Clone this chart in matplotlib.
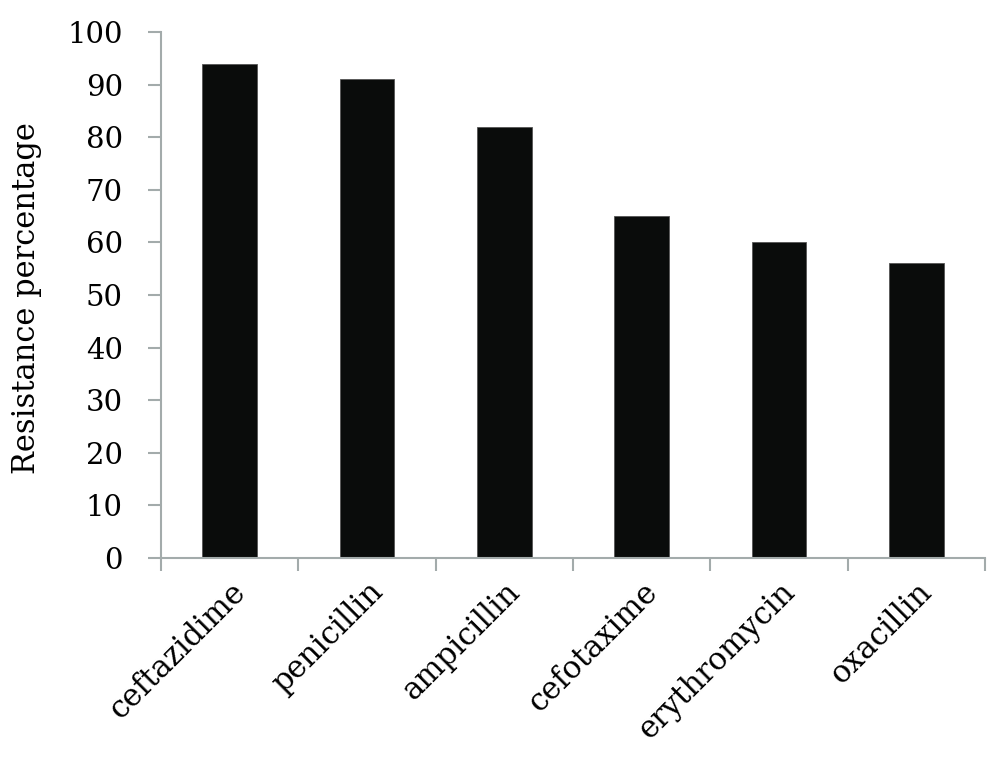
#!/usr/bin/env python3
"""
Bar chart of antibiotic resistance percentages.
"""

import numpy as np
import matplotlib
matplotlib.use("Agg")
import matplotlib.pyplot as plt

antibiotics = ["ceftazidime", "penicillin", "ampicillin",
               "cefotaxime", "erythromycin", "oxacillin"]
resistance = [94, 91, 82, 65, 60, 56]
y_ticks = list(range(0, 101, 10))


def bar_chart():
    plt.rcParams['font.family'] = ['DejaVu Serif']
    fig = plt.figure(figsize=(10, 7.7), dpi=100)
    ax = fig.add_axes([0.161, 0.2753, 0.824, 0.6831])

    x = np.arange(len(antibiotics))
    ax.bar(x, resistance, width=0.4, color='#0a0c0b',
           edgecolor='#555555', linewidth=0.6)

    ax.set_xlim(-0.5, len(antibiotics) - 0.5)
    ax.set_ylim(0, 100)
    ax.set_yticks(y_ticks)
    ax.tick_params(axis='y', labelsize=21, length=9.5, width=1.5,
                   color='#a3abab', pad=18)

    # excel-style ticks between categories
    ax.set_xticks(np.arange(len(antibiotics) + 1) - 0.5)
    ax.set_xticklabels([])
    ax.tick_params(axis='x', which='major', length=9, width=1.5,
                   color='#a3abab')
    ax.set_xticks(x, minor=True)
    ax.set_xticklabels(antibiotics, minor=True, rotation=45, ha='right',
                       rotation_mode='anchor', fontsize=22)
    ax.tick_params(axis='x', which='minor', length=0, pad=13)

    for side in ['top', 'right']:
        ax.spines[side].set_visible(False)
    for side in ['left', 'bottom']:
        ax.spines[side].set_color('#a3abab')
        ax.spines[side].set_linewidth(1.5)

    ax.set_ylabel("Resistance percentage", fontsize=22)
    ax.yaxis.set_label_coords(-0.145, 0.495)

    fig.savefig("out.png", dpi=100)


bar_chart()
